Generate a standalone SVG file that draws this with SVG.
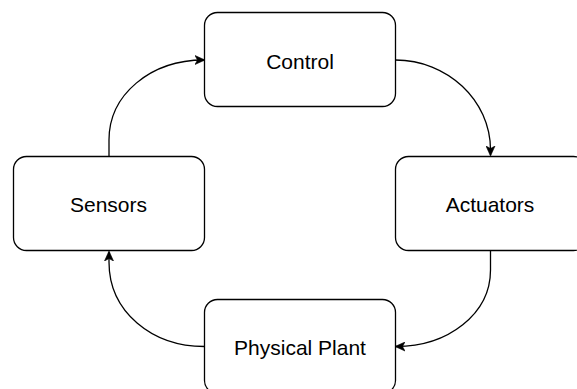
<svg xmlns="http://www.w3.org/2000/svg" width="577" height="389" viewBox="0 0 577 389">
<style>
.box{fill:#fff;stroke:#000;stroke-width:1.3}
.lbl{font-family:"Liberation Sans",Arial,sans-serif;font-size:21px;fill:#000;text-anchor:middle}
.edge{fill:none;stroke:#000;stroke-width:1.3}
</style>
<defs>
<marker id="arr" viewBox="0 0 10 10" refX="9" refY="5" markerWidth="10" markerHeight="10" markerUnits="userSpaceOnUse" orient="auto">
<path d="M0,0.5 L10,5 L0,9.5 L2.5,5 Z" fill="#000" stroke="#000" stroke-width="0.6"/>
</marker>
</defs>
<g id="edges">
<path class="edge" d="M395.5,60 C447,60 490.5,100 490.5,150 L490.5,155" marker-end="url(#arr)"/>
<path class="edge" d="M490.5,251 L490.5,270 C490.5,314 448,346.5 396,346.5" marker-end="url(#arr)"/>
<path class="edge" d="M204.5,346.5 C152,346.5 109,312 109,262 L109,252" marker-end="url(#arr)"/>
<path class="edge" d="M109,156 L109,140 C109,95 150,60 204,60" marker-end="url(#arr)"/>
</g>
<g id="control">
<rect class="box" x="204.5" y="12.5" width="191" height="94" rx="13"/>
<text class="lbl" x="300" y="69">Control</text>
</g>
<g id="actuators">
<rect class="box" x="395.5" y="156.5" width="191" height="94" rx="13"/>
<text class="lbl" x="490" y="211.5">Actuators</text>
</g>
<g id="sensors">
<rect class="box" x="13.5" y="156.5" width="191" height="94" rx="13"/>
<text class="lbl" x="108.5" y="211.5">Sensors</text>
</g>
<g id="plant">
<rect class="box" x="204.5" y="299.5" width="191" height="94" rx="13"/>
<text class="lbl" x="300" y="354.5">Physical Plant</text>
</g>
</svg>
